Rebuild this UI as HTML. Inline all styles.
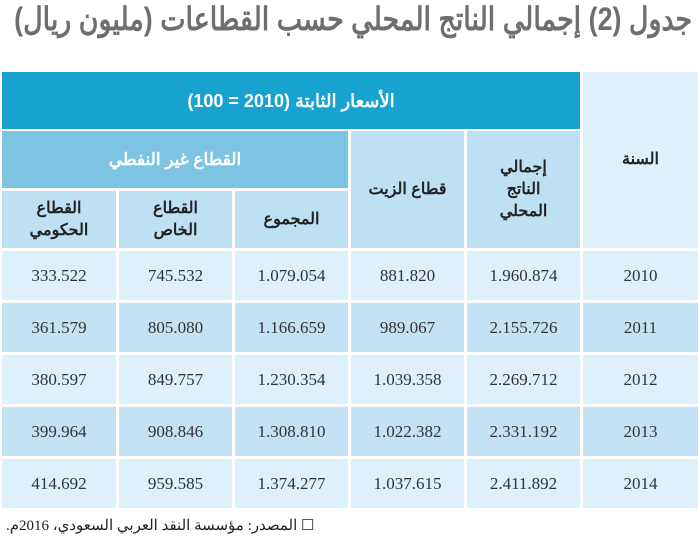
<!DOCTYPE html><html><head><meta charset="utf-8"><style>
body{margin:0;width:700px;height:544px;background:#fff;position:relative;overflow:hidden;font-family:"Liberation Sans","Noto Sans CJK SC",sans-serif}
.c{position:absolute;display:flex;align-items:center;justify-content:center;text-align:center;box-sizing:border-box}
.h{font-weight:bold;font-size:16px;color:#222;line-height:22px}
.d{font-family:"Liberation Serif",serif;font-size:17px;color:#333}
.t{position:absolute;right:8px;top:0px;font-size:32px;font-weight:bold;color:#6d6e71;direction:rtl;white-space:nowrap;transform:scaleX(0.84);transform-origin:right center}
</style></head><body>
<div class="t">جدول (2) إجمالي الناتج المحلي حسب القطاعات (مليون ريال)</div>
<div class="c h" style="left:2px;top:72px;width:578px;height:57px;background:#17a2d0;color:#fff;font-size:18px">الأسعار الثابتة (2010 = 100)</div>
<div class="c h" style="left:583px;top:72px;width:115px;height:176px;background:#def0fa">السنة</div>
<div class="c h" style="left:2px;top:131px;width:346px;height:57px;background:#7dc4e3;color:#fff;font-size:17px">القطاع غير النفطي</div>
<div class="c h" style="left:351px;top:131px;width:113px;height:117px;background:#bde0f2">قطاع الزيت</div>
<div class="c h" style="left:467px;top:131px;width:113px;height:117px;background:#bde0f2">إجمالي<br>الناتج<br>المحلي</div>
<div class="c h" style="left:2px;top:191px;width:114px;height:57px;background:#bde0f2">القطاع<br>الحكومي</div>
<div class="c h" style="left:119px;top:191px;width:113px;height:57px;background:#bde0f2">القطاع<br>الخاص</div>
<div class="c h" style="left:235px;top:191px;width:113px;height:57px;background:#bde0f2">المجموع</div>
<div id="rows"></div>
<div style="position:absolute;left:6px;top:516px;font-size:15px;color:#222;direction:rtl;white-space:nowrap;font-family:'Liberation Serif','Noto Sans CJK SC',serif">☐ المصدر: مؤسسة النقد العربي السعودي، 2016م.</div>
<script>
var data=[["333.522","745.532","1.079.054","881.820","1.960.874","2010"],["361.579","805.080","1.166.659","989.067","2.155.726","2011"],["380.597","849.757","1.230.354","1.039.358","2.269.712","2012"],["399.964","908.846","1.308.810","1.022.382","2.331.192","2013"],["414.692","959.585","1.374.277","1.037.615","2.411.892","2014"]];
var xs=[2,119,235,351,467,583],ws=[114,113,113,113,113,115],h="";
data.forEach(function(r,i){var y=251+i*52,bg=i%2?"#c3e3f4":"#def0fa";r.forEach(function(v,j){h+='<div class="c d" style="left:'+xs[j]+'px;top:'+y+'px;width:'+ws[j]+'px;height:49px;background:'+bg+'">'+v+'</div>';});});
document.getElementById("rows").innerHTML=h;
</script>
</body></html>
